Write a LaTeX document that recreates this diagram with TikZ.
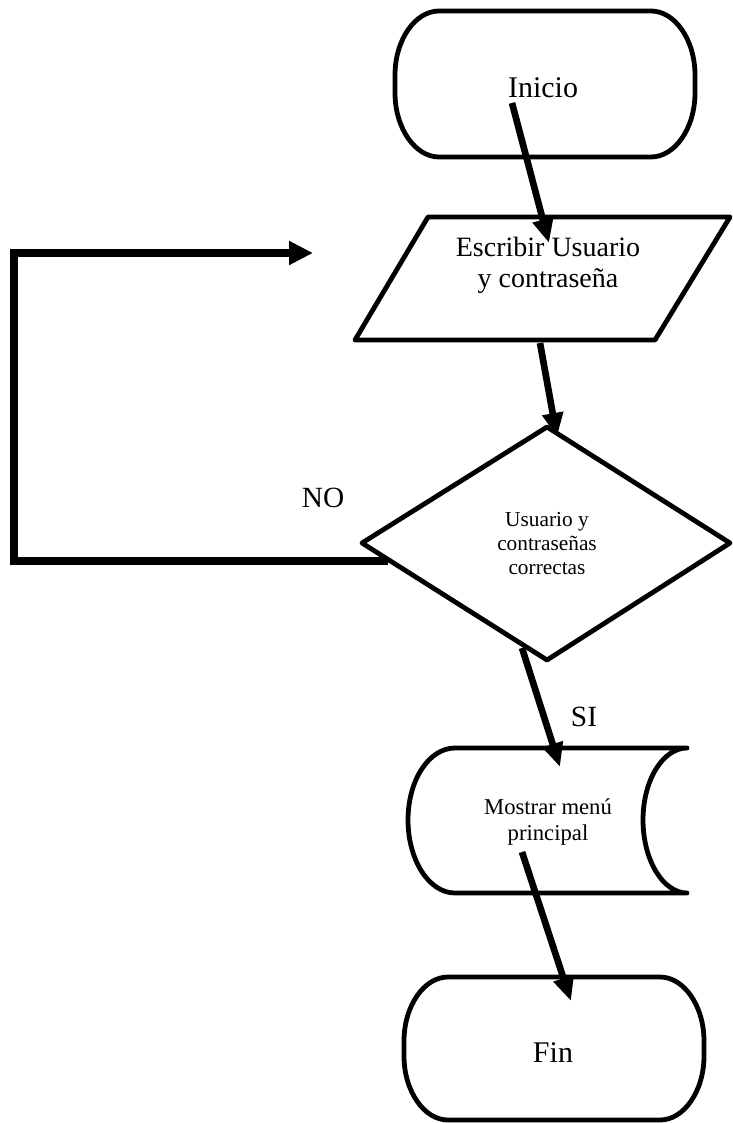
\documentclass[tikz,border=0pt]{standalone}
\usepackage{fontspec}
\setmainfont{Liberation Serif}
\usetikzlibrary{arrows.meta}

% terminal outline with elliptical ends: left, top, right, bottom
\newcommand\terminalpath[4]{%
  \draw[outline] ({#1+44},#2) -- ({#3-44},#2)
    .. controls ({#3-20},#2) and (#3,{#2+29}) .. (#3,{#2+64})
    -- (#3,{#4-64})
    .. controls (#3,{#4-29}) and ({#3-20},#4) .. ({#3-44},#4)
    -- ({#1+44},#4)
    .. controls ({#1+20},#4) and (#1,{#4-29}) .. (#1,{#4-64})
    -- (#1,{#2+64})
    .. controls (#1,{#2+29}) and ({#1+20},#2) .. ({#1+44},#2) -- cycle;}

\begin{document}
\begin{tikzpicture}[x=0.75pt,y=-0.75pt,
  outline/.style={line width=3.6pt, line join=round, line cap=round, fill=white},
  flow/.style={line width=5pt, -{Triangle[length=18pt,width=15pt]}},
  loopline/.style={line width=6pt, line join=miter, -{Triangle[length=18pt,width=17pt]}},
  lbl/.style={inner sep=0pt, align=center}]
\useasboundingbox (0,0) rectangle (732,1123);

% ---- shapes ----
% start terminal
\terminalpath{395}{11}{695}{157}
% input parallelogram
\draw[outline] (428,217) -- (730,217) -- (655,340) -- (355,340) -- cycle;
% decision
\draw[outline] (547,427) -- (730,543) -- (547,660) -- (362,543) -- cycle;
% display shape
\draw[outline] (687,748) -- (455,748)
  .. controls (429,748) and (408,780) .. (408,820)
  .. controls (408,860) and (429,893) .. (455,893) -- (687,893)
  .. controls (663,893) and (643,860) .. (643,820)
  .. controls (643,780) and (663,748) .. (687,748);
% end terminal
\terminalpath{404}{977}{704}{1120}

% ---- texts ----
\node[lbl, anchor=base, font=\fontsize{22.5pt}{27pt}\selectfont] (tInicio) at (543,98) {Inicio};
\node[lbl, font=\fontsize{21pt}{23.5pt}\selectfont] (tEscribir) at (548,265) {Escribir Usuario\\y contraseña};
\node[lbl, font=\fontsize{16pt}{18pt}\selectfont] (tDecision) at (547,544) {Usuario y\\contraseñas\\correctas};
\node[lbl, font=\fontsize{17pt}{20pt}\selectfont] (tMenu) at (548,822) {Mostrar menú\\principal};
\node[lbl, anchor=base, font=\fontsize{22.5pt}{27pt}\selectfont] (tFin) at (553,1062) {Fin};
\node[lbl, anchor=base, font=\fontsize{22pt}{26pt}\selectfont] (tNo) at (323,507) {NO};
\node[lbl, anchor=base, font=\fontsize{22pt}{26pt}\selectfont] (tSi) at (584,726) {SI};

% ---- connector end points ----
\coordinate (iniOut) at (512,103);
\coordinate (escIn) at (549,243);
\coordinate (escOut) at (540,343);
\coordinate (decIn) at (557,437);
\coordinate (decNo) at (388,561);
\coordinate (loopBL) at (14,561);
\coordinate (loopTL) at (14,253);
\coordinate (loopEnd) at (313,253);
\coordinate (decYes) at (522,648);
\coordinate (menuIn) at (560,767);
\coordinate (menuOut) at (522,852);
\coordinate (finIn) at (571,1001);

% ---- connectors ----
\draw[flow] (iniOut) -- (escIn);
\draw[flow] (escOut) -- (decIn);
\draw[loopline] (decNo) -- (loopBL) -- (loopTL) -- (loopEnd);
\draw[flow] (decYes) -- (menuIn);
\draw[flow] (menuOut) -- (finIn);
\end{tikzpicture}
\end{document}
